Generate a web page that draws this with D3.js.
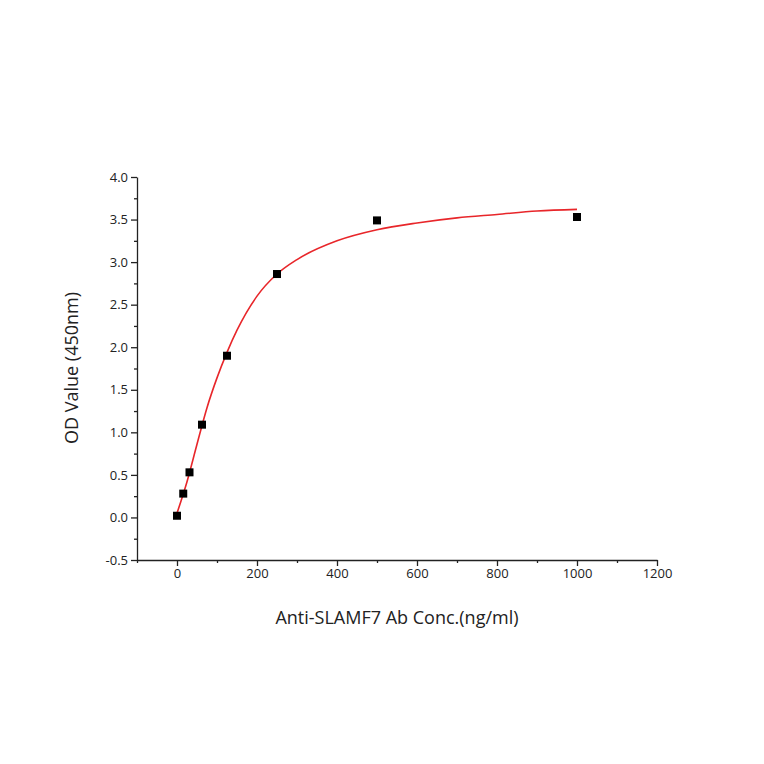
<!DOCTYPE html><html><head><meta charset="utf-8"><script src="https://cdn.jsdelivr.net/npm/d3@7"></script>
<style>body{margin:0;background:#fff}text{font-family:"Open Sans",sans-serif}</style></head><body><svg id="c" width="764" height="764"></svg>
<script>
const concentrations=[0,15.6,31.25,62.5,125,250,500,1000];
const odValues=[0.02,0.28,0.53,1.09,1.90,2.86,3.49,3.53];
const curveX=[0,25,50,75,100,125,150,200,250,300,400,500,600,700,800,900,1000];
const curveY=[0.05,0.42,0.86,1.29,1.64,1.94,2.2,2.6,2.86,3.03,3.25,3.38,3.46,3.52,3.56,3.6,3.62];
const xTicks=[0,200,400,600,800,1000,1200];
const yTicks=[-0.5,0,0.5,1,1.5,2,2.5,3,3.5,4];
const svg=d3.select("#c");
const x=d3.scaleLinear().domain([-100,1200]).range([137,657]);
const y=d3.scaleLinear().domain([-0.5,4]).range([560,177]);
svg.append("g").attr("transform","translate(0,560)").call(d3.axisBottom(x).tickValues(xTicks).tickSize(6).tickSizeOuter(0).tickFormat(d=>String(d)));
svg.append("g").attr("transform","translate(0,560)").call(d3.axisBottom(x).tickValues(d3.range(-100,1200,200)).tickSize(3).tickFormat("")).select(".domain").remove();
svg.append("g").attr("transform","translate(137,0)").call(d3.axisLeft(y).tickValues(yTicks).tickSize(6).tickSizeOuter(0).tickFormat(d=>d.toFixed(1)));
svg.append("g").attr("transform","translate(137,0)").call(d3.axisLeft(y).tickValues(d3.range(-0.25,4,0.5)).tickSize(3).tickFormat("")).select(".domain").remove();
svg.selectAll(".tick text").attr("font-size",13).attr("fill","#222");
svg.selectAll(".domain,.tick line").attr("stroke","#222").attr("stroke-width",1.3);
svg.append("path").datum(curveX.map((d,i)=>[d,curveY[i]])).attr("fill","none").attr("stroke","#e8262a").attr("stroke-width",1.6)
 .attr("d",d3.line().x(d=>x(d[0])).y(d=>y(d[1])).curve(d3.curveMonotoneX));
svg.selectAll("rect.p").data(concentrations).join("rect").attr("x",(d)=>x(d)-4).attr("y",(d,i)=>y(odValues[i])-4).attr("width",8).attr("height",8).attr("fill","#000");
svg.append("text").attr("x",397).attr("y",624).attr("text-anchor","middle").attr("font-size",18).attr("fill","#222").text("Anti-SLAMF7 Ab Conc.(ng/ml)");
svg.append("text").attr("transform","translate(78,368) rotate(-90)").attr("text-anchor","middle").attr("font-size",18).attr("fill","#222").text("OD Value (450nm)");
</script></body></html>
